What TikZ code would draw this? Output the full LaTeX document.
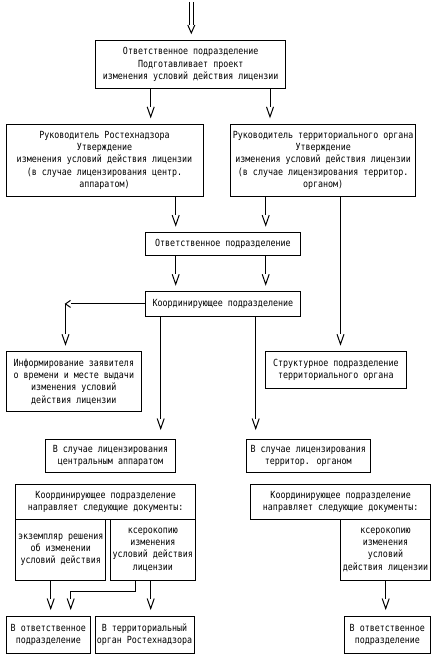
\documentclass[tikz,border=0pt]{standalone}
\usepackage{fontspec}
\newfontfamily\monofnt[FakeStretch=0.85]{DejaVu Sans Mono}
\pgfdeclarearrow{
  name = VTip,
  setup code = {
    \pgfarrowssettipend{0pt}
    \pgfarrowssetlineend{-10pt}
    \pgfarrowssetbackend{-10pt}
    \pgfarrowsupperhullpoint{-10pt}{3.5pt}
    \pgfarrowsupperhullpoint{0pt}{0pt}
  },
  drawing code = {
    \pgfpathmoveto{\pgfpoint{-10pt}{3.5pt}}
    \pgfpathlineto{\pgfpointorigin}
    \pgfpathlineto{\pgfpoint{-10pt}{-3.5pt}}
    \pgfusepathqstroke
  }
}
\pgfdeclarearrow{
  name = VTipS,
  setup code = {
    \pgfarrowssettipend{0pt}
    \pgfarrowssetlineend{-5pt}
    \pgfarrowssetbackend{-5pt}
    \pgfarrowsupperhullpoint{-5pt}{3.5pt}
    \pgfarrowsupperhullpoint{0pt}{0pt}
  },
  drawing code = {
    \pgfpathmoveto{\pgfpoint{-5pt}{3.5pt}}
    \pgfpathlineto{\pgfpointorigin}
    \pgfpathlineto{\pgfpoint{-5pt}{-3.5pt}}
    \pgfusepathqstroke
  }
}
\tikzset{
  box/.style={draw, line width=1pt, inner sep=1pt, align=center,
    font=\monofnt\fontsize{9.8pt}{12.3pt}\selectfont},
  arr/.style={line width=1pt, -VTip, shorten >=7pt},
  arrl/.style={line width=1pt, -VTip, shorten >=10pt},
  wire/.style={line width=1pt}
}
\begin{document}
\begin{tikzpicture}[x=1pt,y=-1pt]
\fill[white] (0,0) rectangle (439,661);
\useasboundingbox (0,0) rectangle (439,661);

% nodes
\node[box, minimum width=190pt, minimum height=47.6pt] (b1) at (190.7,64.5)
  {Ответственное подразделение\\Подготавливает проект\\изменения условий действия лицензии};
\node[box, minimum width=197pt, minimum height=71.7pt] (b2) at (104.5,160.2)
  {Руководитель Ростехнадзора\\Утверждение\\изменения условий действия лицензии\\(в случае лицензирования центр.\\аппаратом)};
\node[box, minimum width=185pt, minimum height=71.7pt] (b3) at (323.2,160.2)
  {Руководитель территориального органа\\Утверждение\\изменения условий действия лицензии\\(в случае лицензирования территор.\\органом)};
\node[box, minimum width=154.3pt, minimum height=23.3pt] (b4) at (222.9,244.3)
  {Ответственное подразделение};
\node[box, minimum width=154.3pt, minimum height=24.3pt] (b5) at (222.9,303.9)
  {Координирующее подразделение};
\node[box, minimum width=135.7pt, minimum height=60pt] (b6) at (73.85,381.7)
  {Информирование заявителя\\о времени и месте выдачи\\изменения условий\\действия лицензии};
\node[box, minimum width=141.7pt, minimum height=36.6pt] (b7) at (335.85,370)
  {Структурное подразделение\\территориального органа};
\node[box, minimum width=130.4pt, minimum height=33.3pt] (b8) at (110.5,455.7)
  {В случае лицензирования\\центральным аппаратом};
\node[box, minimum width=124.3pt, minimum height=33.3pt] (b9) at (308.3,455.7)
  {В случае лицензирования\\территор. органом};
\node[box, minimum width=180pt, minimum height=35pt] (b10) at (105.7,501.8)
  {Координирующее подразделение\\направляет следующие документы:};
\node[box, minimum width=90pt, minimum height=60.7pt] (s1) at (60.7,549.7)
  {экземпляр решения\\об изменении\\условий действия};
\node[box, minimum width=85.7pt, minimum height=60.7pt] (s2) at (152.85,549.7)
  {ксерокопию\\изменения\\условий действия\\лицензии};
\node[box, minimum width=180pt, minimum height=35pt] (b11) at (340.7,501.8)
  {Координирующее подразделение\\направляет следующие документы:};
\node[box, minimum width=90.4pt, minimum height=60.7pt] (s3) at (385.5,549.7)
  {ксерокопию\\изменения\\условий\\действия лицензии};
\node[box, minimum width=84.7pt, minimum height=37.3pt] (b12) at (48.35,634.7)
  {В ответственное\\подразделение};
\node[box, minimum width=99pt, minimum height=37.3pt] (b13) at (144.5,634.7)
  {В территориальный\\орган Ростехнадзора};
\node[box, minimum width=86.7pt, minimum height=37.3pt] (b14) at (387.35,634.7)
  {В ответственное\\подразделение};

% helper x positions
\coordinate (cA) at (150.7,0);
\coordinate (cB) at (270,0);
\coordinate (cC) at (175.7,0);
\coordinate (cD) at (265.7,0);
\coordinate (cE) at (340.5,0);
\coordinate (cF) at (160.7,0);
\coordinate (cG) at (255.7,0);
\coordinate (cH) at (65.5,0);
\coordinate (cI) at (50.7,0);
\coordinate (cJ) at (135.7,0);
\coordinate (cK) at (70.7,0);
\coordinate (cL) at (150.7,0);
\coordinate (cM) at (385.7,0);
\coordinate (jy) at (0,591.7);

% incoming double arrow
\coordinate (in) at (191.3,2);
\coordinate (inEnd) at (191.3,25);
\draw[wire] ([xshift=-2pt]in) -- ([xshift=-2pt]inEnd);
\draw[wire] ([xshift=2pt]in) -- ([xshift=2pt]inEnd);
\draw[wire] ([xshift=-3.5pt]inEnd) -- ++(3.5,8) -- ++(3.5,-8);

% connectors
\draw[arr] (b1.south -| cA) -- (b2.north -| cA);
\draw[arr] (b1.south -| cB) -- (b3.north -| cB);
\draw[arr] (b2.south -| cC) -- (b4.north -| cC);
\draw[arr] (b3.south -| cD) -- (b4.north -| cD);
\draw[arr] (b3.south -| cE) -- (b7.north -| cE);
\draw[arr] (b4.south -| cC) -- (b5.north -| cC);
\draw[arr] (b4.south -| cD) -- (b5.north -| cD);
\coordinate (k) at (b5.west -| cH);
\draw[line width=1pt, -VTipS] (b5.west) -- (k);
\draw[arr] (k) -- (b6.north -| k);
\draw[arrl] (b5.south -| cF) -- (b8.north -| cF);
\draw[arrl] (b5.south -| cG) -- (b9.north -| cG);
\draw[arr] (s1.south -| cI) -- (b12.north -| cI);
\draw[arr] (s2.south -| cJ) -- (cJ |- jy) -| (b12.north -| cK);
\draw[arr] (s2.south -| cL) -- (b13.north -| cL);
\draw[arr] (s3.south -| cM) -- (b14.north -| cM);
\end{tikzpicture}
\end{document}
